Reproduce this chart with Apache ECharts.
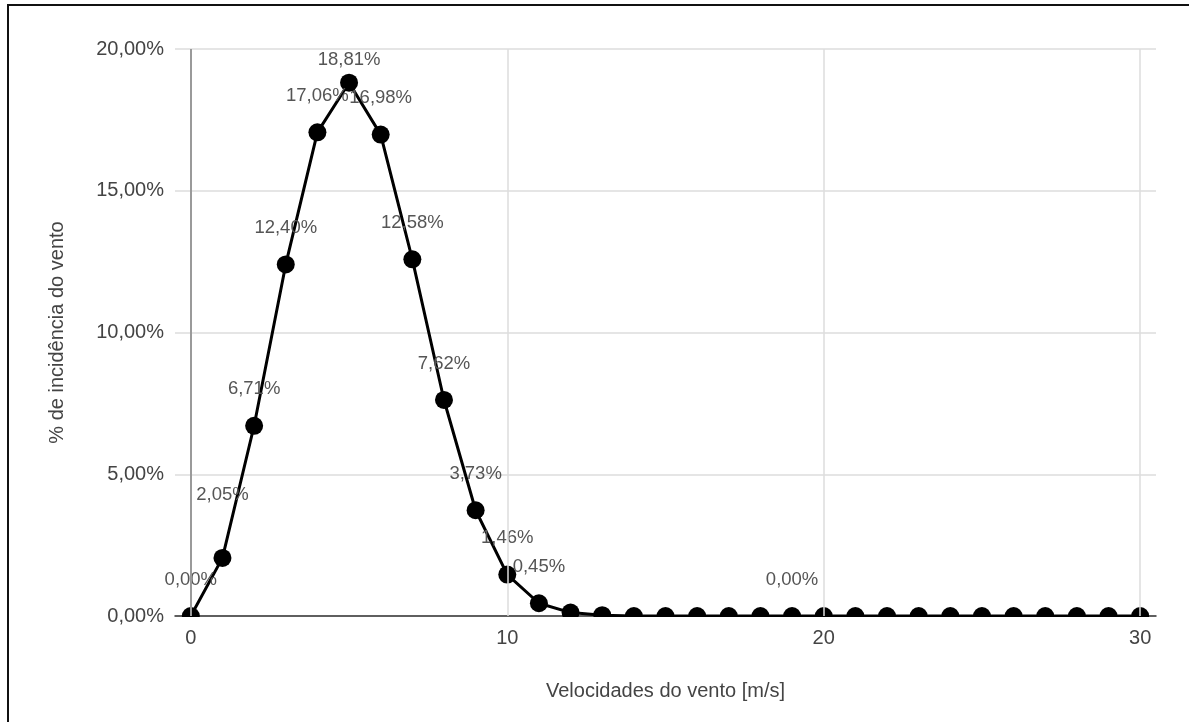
<!DOCTYPE html>
<html>
<head>
<meta charset="utf-8">
<script src="https://cdn.jsdelivr.net/npm/echarts@6/dist/echarts.min.js"></script>
<style>
  html, body { margin: 0; padding: 0; background: #fff; }
  #chart { width: 1189px; height: 722px; }
</style>
</head>
<body>
<div id="chart"></div>
<script>
// Wind speed classes [m/s]
const speeds = [0, 1, 2, 3, 4, 5, 6, 7, 8, 9, 10, 11, 12, 13, 14, 15, 16, 17, 18, 19, 20,
                21, 22, 23, 24, 25, 26, 27, 28, 29, 30];
// Share of occurrences per speed class [%]
const incidence = [0.00, 2.05, 6.71, 12.40, 17.06, 18.81, 16.98, 12.58, 7.62, 3.73, 1.46, 0.45,
                   0.12, 0.03, 0.00, 0.00, 0.00, 0.00, 0.00, 0.00, 0.00,
                   0.00, 0.00, 0.00, 0.00, 0.00, 0.00, 0.00, 0.00, 0.00, 0.00];
// Speeds that carry a value annotation
const annotated = [0, 1, 2, 3, 4, 5, 6, 7, 8, 9, 10, 11, 19];
// Axis ticks
const xTicks = [0, 10, 20, 30];
const yTicks = [0, 5, 10, 15, 20];

const FONT = '"Liberation Sans", Arial, sans-serif';
const pct = v => v.toFixed(2).replace('.', ',') + '%';

// gap between marker and its annotation (default, with a few exceptions)
const labelGap = { 1: 44, 5: 4 };

const seriesData = speeds.map((s, i) => {
  const item = { value: [s, incidence[i]] };
  if (annotated.indexOf(s) >= 0) {
    item.label = {
      show: true,
      position: 'top',
      distance: labelGap[s] !== undefined ? labelGap[s] : 18,
      formatter: () => pct(incidence[i]),
      color: '#555',
      fontSize: 18.5,
      fontFamily: FONT
    };
  }
  return item;
});

const chart = echarts.init(document.getElementById('chart'), null, { renderer: 'canvas' });

chart.setOption({
  backgroundColor: '#fff',
  animation: false,
  grid: { left: 175, right: 33, top: 49, bottom: 106, containLabel: false },
  xAxis: {
    type: 'value',
    min: -0.5,
    max: 30.5,
    name: 'Velocidades do vento [m/s]',
    nameLocation: 'middle',
    nameGap: 65,
    nameTextStyle: { color: '#444', fontSize: 20, fontFamily: FONT },
    axisLine: { show: true, lineStyle: { color: '#333', width: 1.5 } },
    axisTick: { show: false },
    splitLine: { show: false },
    axisLabel: {
      customValues: xTicks,
      color: '#444',
      fontSize: 20,
      fontFamily: FONT,
      margin: 12
    }
  },
  yAxis: {
    type: 'value',
    min: 0,
    max: 20,
    interval: 5,
    name: '% de incidência do vento',
    nameLocation: 'middle',
    nameGap: 108,
    nameTextStyle: { color: '#444', fontSize: 20, fontFamily: FONT },
    axisLine: { show: false },
    axisTick: { show: false },
    splitLine: { show: true, lineStyle: { color: '#dcdcdc', width: 1.5 } },
    axisLabel: {
      customValues: yTicks,
      formatter: v => pct(v),
      color: '#444',
      fontSize: 20,
      fontFamily: FONT,
      margin: 11
    }
  },
  series: [
    {
      // vertical grid lines and the y axis line at speed 0
      type: 'line',
      data: [],
      z: 1,
      silent: true,
      markLine: {
        silent: true,
        symbol: 'none',
        label: { show: false },
        animation: false,
        data: [
          { xAxis: 0, lineStyle: { color: '#9a9a9a', width: 2, type: 'solid' } },
          { xAxis: 10, lineStyle: { color: '#dcdcdc', width: 1.5, type: 'solid' } },
          { xAxis: 20, lineStyle: { color: '#dcdcdc', width: 1.5, type: 'solid' } },
          { xAxis: 30, lineStyle: { color: '#dcdcdc', width: 1.5, type: 'solid' } }
        ]
      }
    },
    {
      type: 'line',
      data: seriesData,
      z: 3,
      symbol: 'circle',
      symbolSize: 18,
      showAllSymbol: true,
      itemStyle: { color: '#000' },
      lineStyle: { color: '#000', width: 3 },
      labelLayout: { hideOverlap: false }
    }
  ]
});

// frame around the figure, and a mask that trims markers at the baseline
const base = chart.convertToPixel({ gridIndex: 0 }, [0, 0]);
const left = chart.convertToPixel({ gridIndex: 0 }, [-0.5, 0])[0];
const right = chart.convertToPixel({ gridIndex: 0 }, [30.5, 0])[0];
chart.setOption({
  graphic: [
    {
      type: 'rect',
      z: 100,
      silent: true,
      shape: { x: left - 10, y: base[1] + 1, width: right - left + 20, height: 10 },
      style: { fill: '#fff' }
    },
    {
      type: 'rect',
      z: 100,
      silent: true,
      shape: { x: 8, y: 5, width: 1300, height: 900 },
      style: { fill: 'none', stroke: '#111', lineWidth: 2 }
    }
  ]
});
</script>
</body>
</html>
